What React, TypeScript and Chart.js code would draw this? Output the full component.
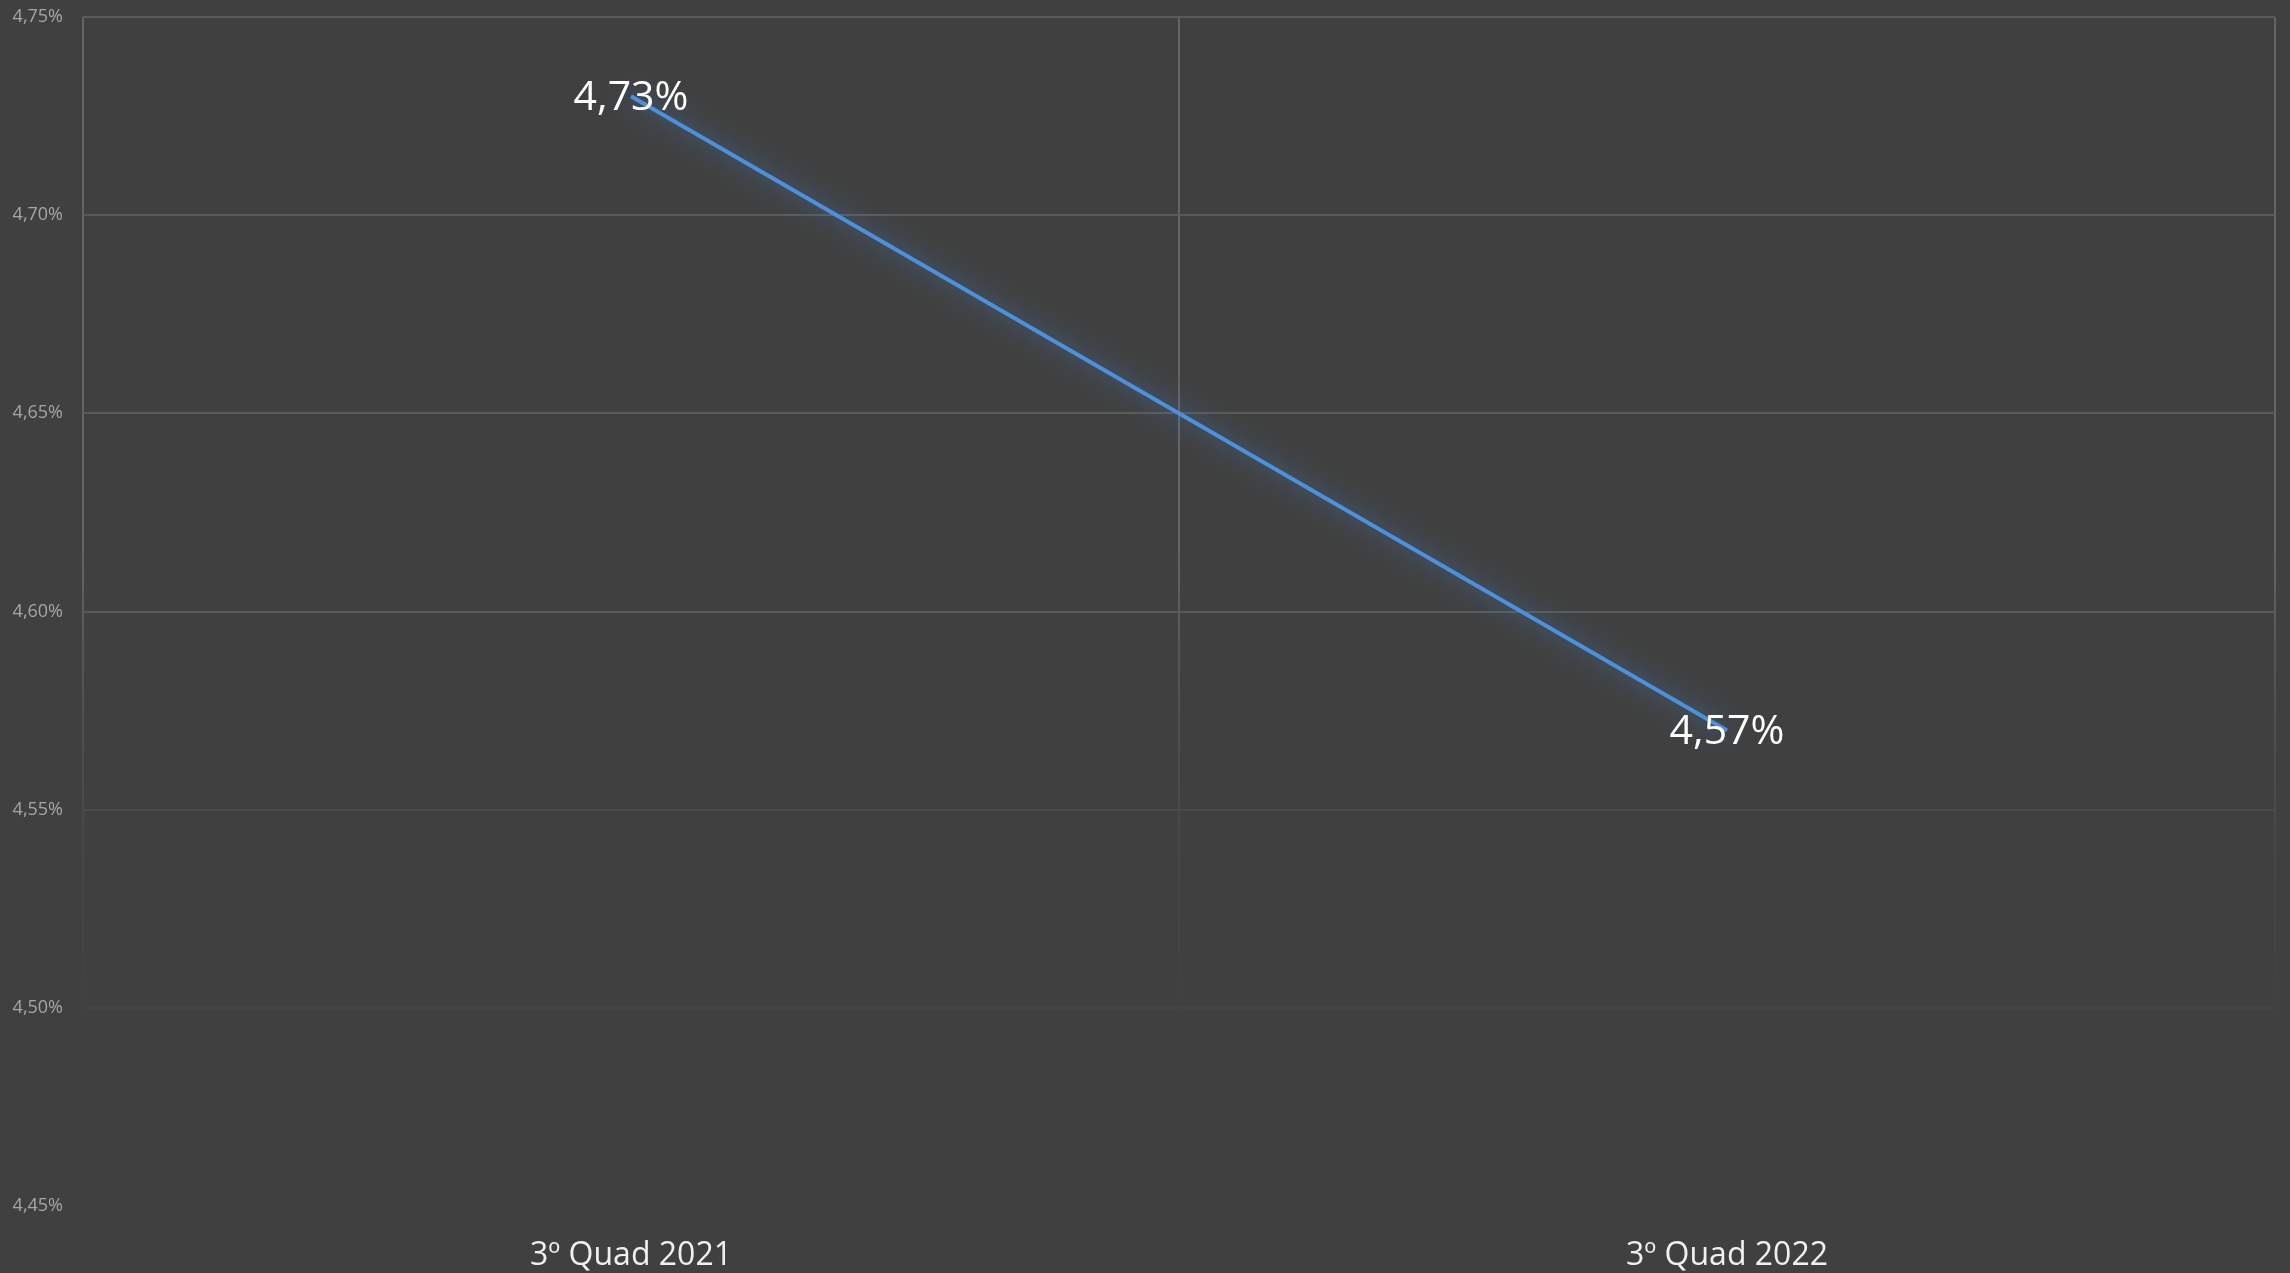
import React, { useEffect, useRef } from "react";
import { Chart, registerables } from "chart.js";

Chart.register(...registerables);

const categories = ["3º Quad 2021", "3º Quad 2022"];
const values = [4.73, 4.57];
const yMin = 4.45;
const yMax = 4.75;
const yStep = 0.05;

const fmt = (v: number) => v.toFixed(2).replace(".", ",") + "%";

const glowPlugin = {
  id: "glow",
  beforeDatasetsDraw(chart: any) {
    const ctx = chart.ctx;
    ctx.save();
    ctx.shadowColor = "rgba(75,145,235,0.9)";
    ctx.shadowBlur = 24;
  },
  afterDatasetsDraw(chart: any) {
    chart.ctx.restore();
  },
};

const labelPlugin = {
  id: "pointLabels",
  afterDraw(chart: any) {
    const ctx = chart.ctx;
    const meta = chart.getDatasetMeta(0);
    const data = chart.data.datasets[0].data as number[];
    ctx.save();
    ctx.font = "41px 'Open Sans'";
    ctx.fillStyle = "#ffffff";
    ctx.textAlign = "center";
    ctx.textBaseline = "middle";
    meta.data.forEach((pt: any, i: number) => {
      ctx.fillText(fmt(data[i]), pt.x, pt.y + 2);
    });
    ctx.restore();
  },
};

export default function App() {
  const ref = useRef<HTMLCanvasElement | null>(null);
  useEffect(() => {
    if (!ref.current) return;
    const chart = new Chart(ref.current, {
      type: "line",
      data: {
        labels: categories,
        datasets: [
          {
            data: values,
            borderColor: "#4d90dc",
            borderWidth: 4,
            pointRadius: 0,
            tension: 0,
            fill: false,
          },
        ],
      },
      options: {
        animation: false,
        responsive: true,
        maintainAspectRatio: false,
        layout: { padding: { top: 17, right: 15, bottom: 0, left: 0 } },
        plugins: {
          legend: { display: false },
          tooltip: { enabled: false },
        },
        scales: {
          x: {
            offset: true,
            grid: {
              offset: true,
              drawTicks: false,
              lineWidth: 2,
              color: (c: any) => {
                const chart = c.chart;
                const area = chart.chartArea;
                if (!area) return "#595959";
                const g = chart.ctx.createLinearGradient(0, area.top, 0, area.bottom);
                g.addColorStop(0, "rgba(100,100,100,1)");
                g.addColorStop(0.45, "rgba(100,100,100,1)");
                g.addColorStop(0.62, "rgba(90,90,90,0.5)");
                g.addColorStop(0.85, "rgba(70,70,70,0.15)");
                g.addColorStop(1, "rgba(64,64,64,0)");
                return g;
              },
            },
            border: { display: false },
            ticks: {
              color: "#f0f0f0",
              font: { family: "'Open Sans'", size: 32 },
              padding: 31,
            },
            afterFit: (s: any) => {
              s.height = 67;
            },
          },
          y: {
            min: yMin,
            max: yMax,
            grid: {
              drawTicks: false,
              lineWidth: 2,
              color: (c: any) => {
                const v = c.tick ? c.tick.value : 0;
                if (v > 4.575) return "#5a5a5a";
                if (v > 4.525) return "#4b4b4b";
                if (v > 4.475) return "#444444";
                return "rgba(0,0,0,0)";
              },
            },
            border: { display: false },
            ticks: {
              stepSize: yStep,
              color: "#a6a6a6",
              font: { family: "'Open Sans'", size: 18 },
              padding: 20,
              callback: (v: any) => fmt(Number(v)),
            },
            afterFit: (s: any) => {
              s.width = 83;
              s.paddingTop = 0;
              s.paddingBottom = 0;
            },
          },
        },
      },
      plugins: [glowPlugin, labelPlugin],
    });
    return () => chart.destroy();
  }, []);
  return (
    <div
      style={{
        position: "fixed",
        left: 0,
        top: 0,
        width: 2290,
        height: 1273,
        background: "#404040",
      }}
    >
      <canvas ref={ref} />
    </div>
  );
}
